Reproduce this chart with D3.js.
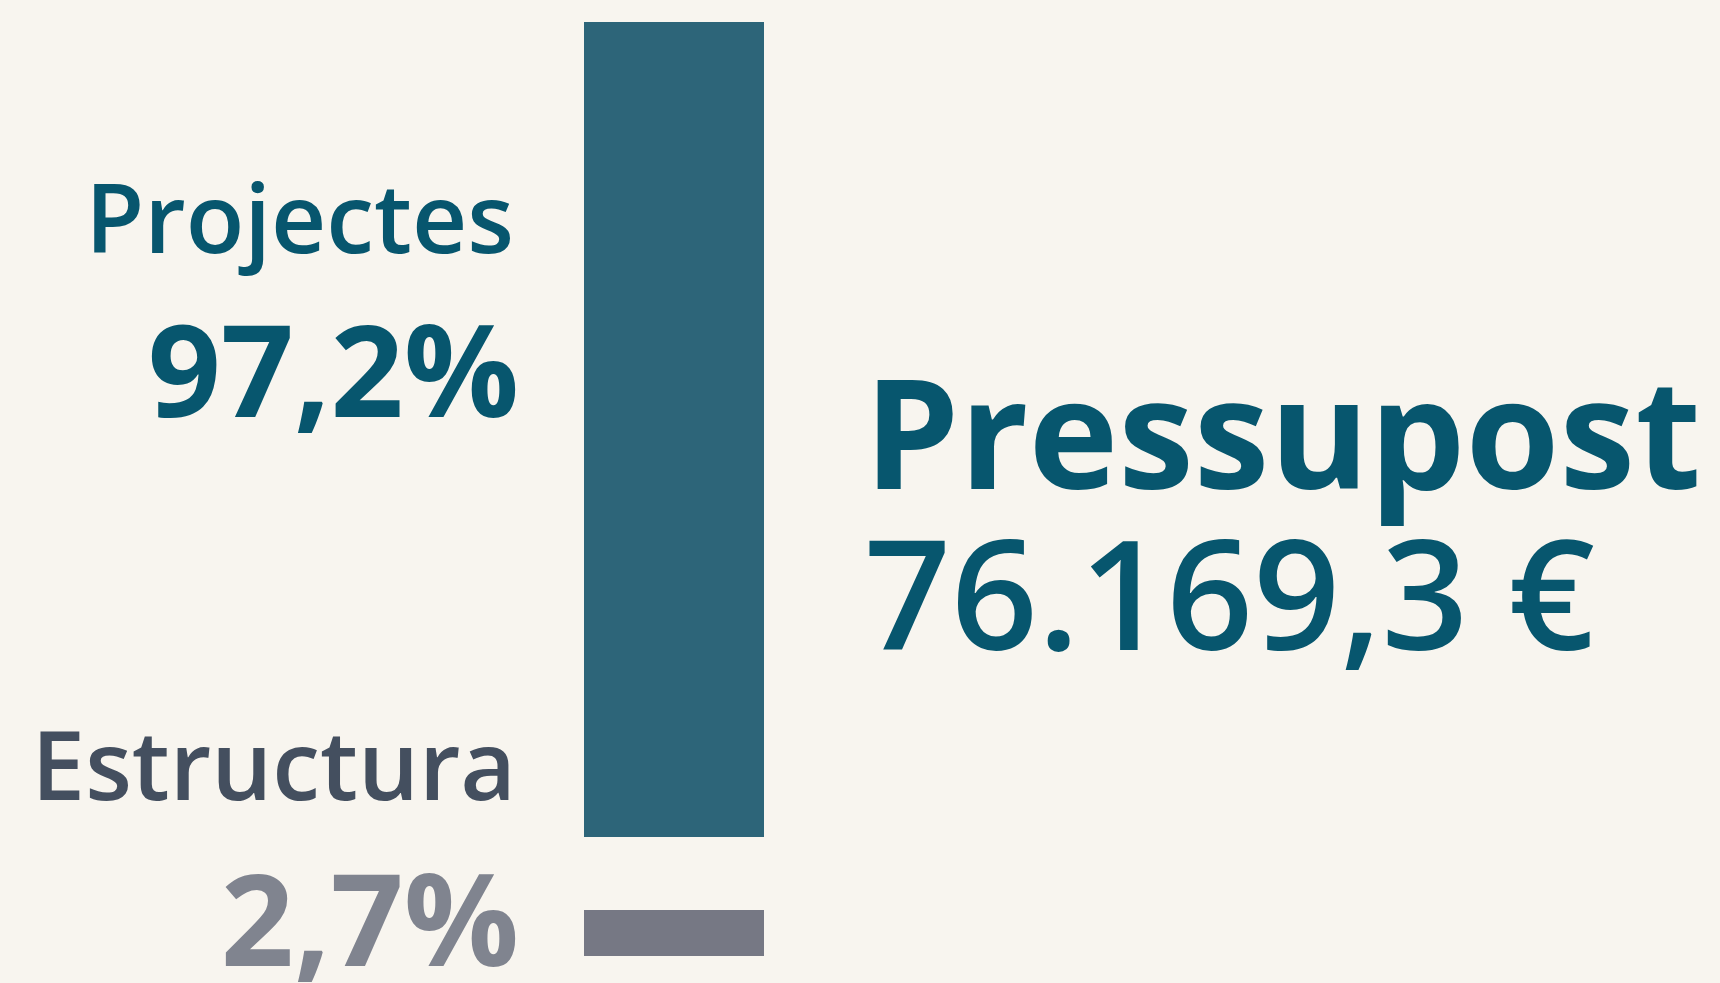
<!DOCTYPE html>
<html><head><meta charset="utf-8">
<script src="https://cdn.jsdelivr.net/npm/d3@7"></script>
<style>html,body{margin:0;padding:0;background:#f8f5ef;overflow:hidden}</style>
</head><body><svg id="c" width="1720" height="983"></svg>
<script>
const categories = ["Projectes", "Estructura"];
const shares = [97.2, 2.7];
const pctLabels = ["97,2%", "2,7%"];
const totalLabel = "Pressupost";
const totalValue = 76169.3;

const barColors = ["#2d6579", "#767884"];
const nameColors = ["#07566e", "#444f5f"];
const pctColors = ["#07566e", "#80848f"];

const svg = d3.select("#c");
svg.append("rect").attr("width",1720).attr("height",983).attr("fill","#f8f5ef");

const x0 = 584, x1 = 764;
const y = d3.scaleLinear().domain([0, shares[0]]).range([0, 815]);
const minH = 46;
const heights = shares.map(v => Math.max(y(v), minH));
const tops = [22, 22 + heights[0] + 73];

const g = svg.append("g");
g.selectAll("rect.bar").data(shares).join("rect")
  .attr("class","bar")
  .attr("x", x0).attr("width", x1 - x0)
  .attr("y", (d,i) => tops[i]).attr("height", (d,i) => heights[i])
  .attr("fill", (d,i) => barColors[i]);

const font = "'Open Sans', sans-serif";
const nameBase = [253, 800];
const nameX = [514, 516];
const nameSize = [96, 96];
const pctBase = [417, 966];
g.selectAll("text.name").data(categories).join("text")
  .attr("class","name").attr("x", (d,i) => nameX[i]).attr("y", (d,i) => nameBase[i])
  .attr("text-anchor","end").attr("font-family", font).attr("font-weight", 600)
  .attr("font-size", (d,i) => nameSize[i])
  .attr("fill", (d,i) => nameColors[i]).text(d => d);
g.selectAll("text.pct").data(pctLabels).join("text")
  .attr("class","pct").attr("x", 519).attr("y", (d,i) => pctBase[i])
  .attr("text-anchor","end").attr("font-family", font).attr("font-weight", 700).attr("font-size", 128)
  .attr("fill", (d,i) => pctColors[i]).text(d => d);

const fmt = d3.formatLocale({decimal: ",", thousands: ".", grouping: [3], currency: ["", " €"]}).format("$,.1f");
g.append("text").attr("x", 864).attr("y", 489).attr("font-family", font).attr("font-weight", 700)
  .attr("font-size", 152).attr("fill", "#07566e").text(totalLabel);
g.append("text").attr("x", 864).attr("y", 650).attr("font-family", font).attr("font-weight", 600)
  .attr("font-size", 152).attr("fill", "#07566e").text(fmt(totalValue));
</script></body></html>
